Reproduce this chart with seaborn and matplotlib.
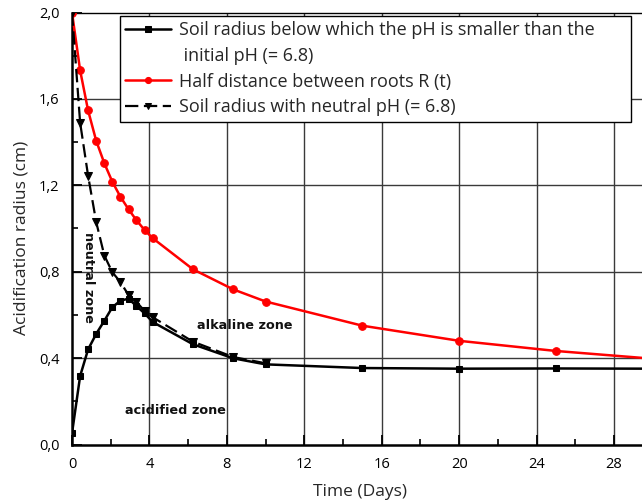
import matplotlib
matplotlib.use("Agg")
import matplotlib.pyplot as plt
from matplotlib.ticker import FuncFormatter, MultipleLocator
from matplotlib.lines import Line2D
import seaborn as sns

# ---- data ----
t_main = [0, 0.42, 0.83, 1.25, 1.67, 2.08, 2.5, 2.92, 3.33, 3.75, 4.17, 6.25, 8.33, 10, 15, 20, 25, 30]
acid_radius = [0.052, 0.317, 0.44, 0.512, 0.573, 0.635, 0.666, 0.675, 0.641, 0.607, 0.567,
               0.464, 0.399, 0.371, 0.354, 0.351, 0.352, 0.351]
half_distance = [2.0, 1.732, 1.547, 1.406, 1.302, 1.217, 1.147, 1.089, 1.038, 0.993, 0.955,
                 0.811, 0.718, 0.662, 0.55, 0.48, 0.433, 0.397]
t_neutral = [0, 0.42, 0.83, 1.25, 1.67, 2.08, 2.5, 2.92, 3.33, 3.75, 4.17, 6.25, 8.33, 10]
neutral_radius = [2.0, 1.49, 1.245, 1.03, 0.875, 0.798, 0.752, 0.692, 0.66, 0.618, 0.589,
                  0.476, 0.405, 0.376]

label_acid_1 = "Soil radius below which the pH is smaller than the"
label_acid_2 = " initial pH (= 6.8)"
label_half = "Half distance between roots R (t)"
label_neutral = "Soil radius with neutral pH (= 6.8)"
x_ticks = [0, 4, 8, 12, 16, 20, 24, 28]
y_ticks = [0.0, 0.4, 0.8, 1.2, 1.6, 2.0]

sns.set_style("ticks")
plt.rcParams["font.family"] = ["Open Sans", "DejaVu Sans"]

W, H = 642, 504
fig = plt.figure(figsize=(W / 100, H / 100), dpi=100)
x0, x1, ytop, ybot = 72, 642, 12.5, 444.5
ax = fig.add_axes([x0 / W, 1 - ybot / H, (x1 - x0) / W, (ybot - ytop) / H])

# grid
for xv in x_ticks[1:]:
    ax.axvline(xv, color="#3a3a3a", lw=1.0, zorder=0)
for yv in y_ticks[1:-1]:
    ax.axhline(yv, color="#3a3a3a", lw=1.0, zorder=0)

sns.lineplot(x=t_main, y=acid_radius, ax=ax, color="black", marker="s", markersize=5,
             markeredgecolor="black", linewidth=1.8, sort=False, label=label_acid_1, zorder=3)
sns.lineplot(x=t_main, y=half_distance, ax=ax, color="#ff0000", marker="o", markersize=5.5,
             markeredgecolor="#ff0000", linewidth=1.8, sort=False, label=label_half, zorder=3)
sns.lineplot(x=t_neutral, y=neutral_radius, ax=ax, color="black", marker="v", markersize=6,
             markeredgecolor="black", linewidth=1.6, linestyle=(0, (6, 2.5)), sort=False,
             label=label_neutral, zorder=3)

ax.set_xlim(0, (x1 - x0) / 19.36)
ax.set_ylim(0, 2.0)
ax.set_xticks(x_ticks)
ax.set_yticks(y_ticks)
ax.xaxis.set_minor_locator(MultipleLocator(2))
ax.yaxis.set_minor_locator(MultipleLocator(0.2))
ax.yaxis.set_major_formatter(FuncFormatter(lambda v, p: f"{v:.1f}".replace(".", ",")))
ax.xaxis.set_major_formatter(FuncFormatter(lambda v, p: f"{int(round(v))}"))
ax.tick_params(which="major", direction="in", length=7, width=1.3, labelsize=10.5,
               colors="black", pad=9)
ax.tick_params(which="minor", direction="in", length=4, width=1.2, colors="black")

for s in ["left", "bottom"]:
    ax.spines[s].set_linewidth(1.8)
    ax.spines[s].set_color("black")
ax.spines["top"].set_visible(True)
ax.spines["top"].set_linewidth(1.0)
ax.spines["top"].set_color("black")
ax.spines["right"].set_visible(False)

ax.set_xlabel("Time (Days)", fontsize=12.5, va="center")
ax.xaxis.set_label_coords((360 - x0) / (x1 - x0), (ybot - 492) / (ybot - ytop))
ax.set_ylabel("Acidification radius (cm)", fontsize=12.5, va="center", ha="center")
ax.yaxis.set_label_coords((21.5 - x0) / (x1 - x0), (ybot - 237.5) / (ybot - ytop))

zkw = dict(fontsize=9.2, fontweight="bold", family="DejaVu Sans", ha="center", va="center",
           color="#111111")
ax.text(0.85, 0.773, "neutral zone", rotation=-90, **zkw)
ax.text(8.94, 0.549, "alkaline zone", **zkw)
ax.text(5.35, 0.157, "acidified zone", **zkw)

handles, labs = ax.get_legend_handles_labels()
blank = Line2D([], [], linestyle="none", marker=None)
handles = [handles[0], blank, handles[1], handles[2]]
labs = [labs[0] + "\u2007" * 3, label_acid_2, labs[1], labs[2]]
leg = ax.legend(handles, labs, loc="upper left", bbox_to_anchor=(120 / W, 1 - 16 / H),
                bbox_transform=fig.transFigure, borderaxespad=0,
                fancybox=False, frameon=True, framealpha=1, edgecolor="black", fontsize=13,
                handlelength=2.5, handletextpad=0.45, labelspacing=0.42,
                borderpad=0.3, markerscale=0.8)
leg.get_frame().set_linewidth(1.0)
leg.set_zorder(5)

fig.savefig("out.png", dpi=100)
